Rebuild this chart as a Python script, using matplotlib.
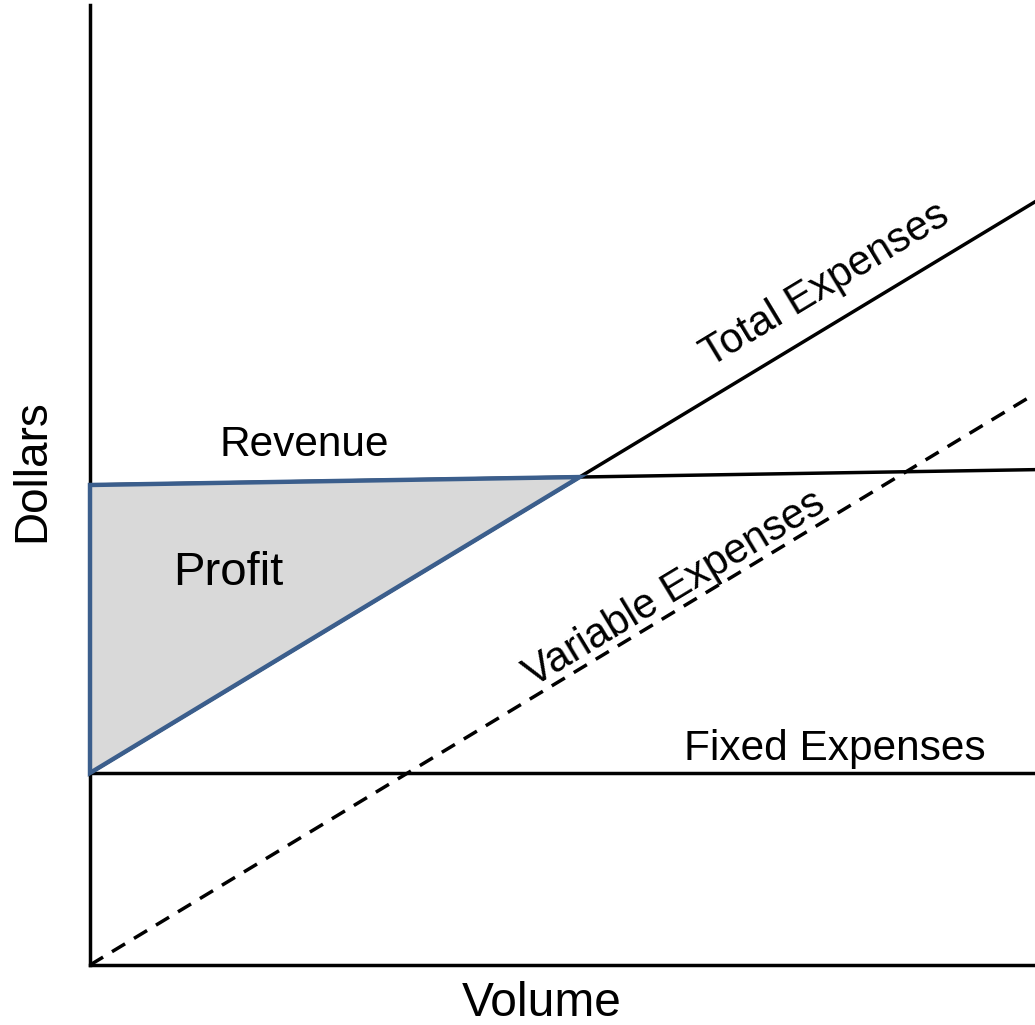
#!/usr/bin/env python3
# break-even style chart: volume vs dollars

import numpy as np
import matplotlib
matplotlib.use("Agg")
import matplotlib.pyplot as plt

plt.rcParams["font.family"] = ["Liberation Sans", "DejaVu Sans"]

# Data (volume 0..100, dollars 0..100)
volume = [0, 100]
fixed_expenses = [20, 20]
variable_expenses = [0, 59.5]
total_expenses = [20, 79.5]
revenue = [50, 51.6]

labels = {
    "revenue": "Revenue",
    "profit": "Profit",
    "fixed": "Fixed Expenses",
    "total": "Total Expenses",
    "variable": "Variable Expenses",
}

BLUE = "#3b5e8c"
LW = 2.5


def crossing(x, a, b):
    # where two straight lines a and b meet
    sa = (a[1] - a[0]) / (x[1] - x[0])
    sb = (b[1] - b[0]) / (x[1] - x[0])
    xc = x[0] + (b[0] - a[0]) / (sa - sb)
    return xc, a[0] + sa * (xc - x[0])


def main():
    fig = plt.figure(figsize=(10.35, 10.25), dpi=100)
    ax = fig.add_axes([90 / 1035, 60 / 1025, 945 / 1035, 960 / 1025])
    ax.set_xlim(0, 100)
    ax.set_ylim(0, 100)

    ax.plot(volume, fixed_expenses, color="black", lw=LW)
    ax.plot(volume, variable_expenses, color="black", lw=LW,
            dashes=(4.4, 3))
    ax.plot(volume, total_expenses, color="black", lw=LW)
    ax.plot(volume, revenue, color="black", lw=LW)

    bx, by = crossing(volume, revenue, total_expenses)
    tri_x = [volume[0], volume[0], bx]
    tri_y = [fixed_expenses[0], revenue[0], by]
    ax.fill(tri_x, tri_y, facecolor="#d9d9d9", edgecolor=BLUE, lw=3.2,
            joinstyle="miter", zorder=3, clip_on=False)

    # angle of the sloped lines on screen
    fig.canvas.draw()
    p0 = ax.transData.transform((volume[0], variable_expenses[0]))
    p1 = ax.transData.transform((volume[1], variable_expenses[1]))
    ang_v = np.degrees(np.arctan2(p1[1] - p0[1], p1[0] - p0[0]))
    p0 = ax.transData.transform((volume[0], total_expenses[0]))
    p1 = ax.transData.transform((volume[1], total_expenses[1]))
    ang_t = np.degrees(np.arctan2(p1[1] - p0[1], p1[0] - p0[0]))

    ax.text(22.7, 54.2, labels["revenue"], fontsize=30.5, ha="center",
            va="center")
    ax.text(14.6, 40.8, labels["profit"], fontsize=34, ha="center",
            va="center", zorder=4)
    ax.text(78.8, 22.5, labels["fixed"], fontsize=30.5, ha="center",
            va="center")
    ax.text(77.8, 70.8, labels["total"], fontsize=30, ha="center",
            va="center", rotation=ang_t, rotation_mode="anchor")
    ax.text(61.9, 39.2, labels["variable"], fontsize=30, ha="center",
            va="center", rotation=ang_v, rotation_mode="anchor")

    ax.set_xlabel("Volume", fontsize=34.5, va="center")
    ax.xaxis.set_label_coords(0.478, -0.04)
    ax.set_ylabel("Dollars", fontsize=33, va="center")
    ax.yaxis.set_label_coords(-0.061, 0.515)

    ax.set_xticks([])
    ax.set_yticks([])
    for side in ("top", "right"):
        ax.spines[side].set_visible(False)
    for side in ("left", "bottom"):
        ax.spines[side].set_linewidth(LW)
        ax.spines[side].set_color("black")

    fig.savefig("out.png", dpi=100)


if __name__ == "__main__":
    main()
